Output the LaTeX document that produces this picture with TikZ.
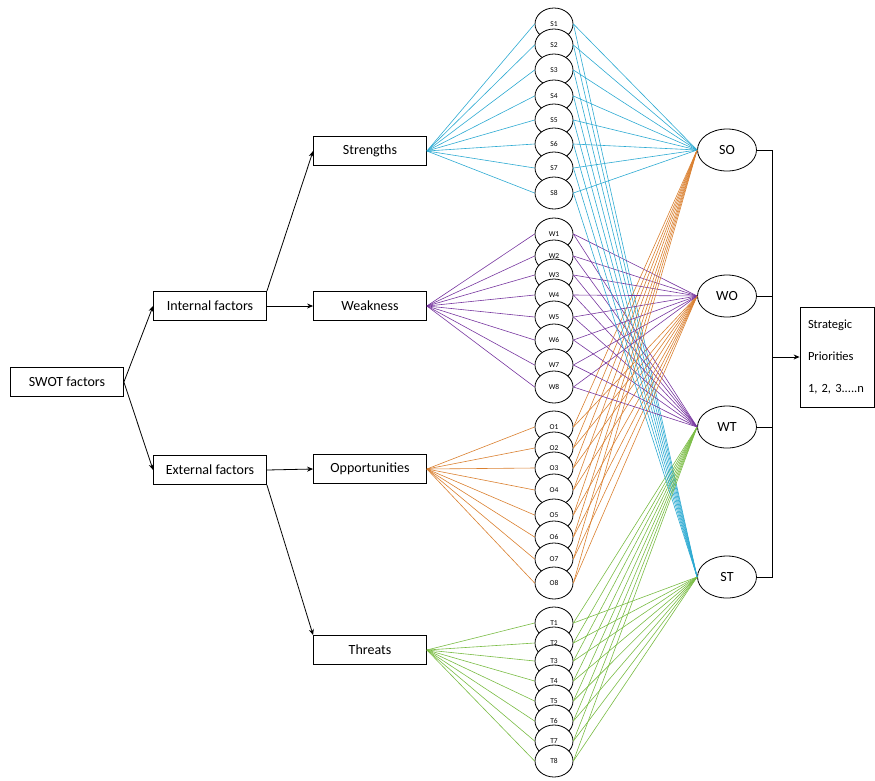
\documentclass[tikz,border=0pt]{standalone}
\usepackage{fontspec}
\setmainfont{Carlito}
\usetikzlibrary{positioning, shapes.geometric, arrows.meta, calc}

\definecolor{scol}{RGB}{45,170,210}
\definecolor{wcol}{RGB}{120,55,160}
\definecolor{ocol}{RGB}{218,128,48}
\definecolor{tcol}{RGB}{122,188,68}

\begin{document}
\begin{tikzpicture}[x=1pt, y=-1pt, >={Stealth[length=6pt, width=5pt]}, line width=0.8pt,
    box/.style={rectangle, draw, minimum width=113pt, minimum height=29pt, inner sep=0pt, font=\fontsize{14}{16}\selectfont},
    item/.style={ellipse, draw, fill=white, minimum width=38pt, minimum height=32pt, inner sep=0pt, font=\fontsize{7.5}{8}\selectfont},
    combo/.style={ellipse, draw, fill=white, minimum width=59pt, minimum height=42pt, inner sep=0pt, font=\fontsize{14}{16}\selectfont},
    link/.style={line width=0.6pt}]
    \useasboundingbox (0,0) rectangle (875,780);

    % Boxes
    \node[box] (swot) at (67, 382) {SWOT factors};
    \node[box] (internal) at (210, 306) {Internal factors};
    \node[box] (external) at (210, 470) {External factors};
    \node[box] (strengths) at (370, 151) {Strengths};
    \node[box] (weakness) at (370, 306) {Weakness};
    \node[box] (opport) at (370, 469) {Opportunities};
    \node[box] (threats) at (370, 650) {Threats};

    % Strategies
    \node[combo] (so) at (727, 150) {SO};
    \node[combo] (wo) at (727, 296) {WO};
    \node[combo] (wt) at (727, 427) {WT};
    \node[combo] (st) at (727, 577) {ST};
    \node[rectangle, draw, minimum height=100pt, text width=58pt, inner xsep=8pt, align=left,
      font=\fontsize{12.5}{32}\selectfont] (prio) at (837, 357) {Strategic\\Priorities\\1, 2, 3.....n};

    % Factor items
    \foreach \i/\y in {1/24, 2/45, 3/70, 4/96, 5/120, 6/144, 7/168, 8/193}
      \node[item] (s\i) at (554, \y) {S\i};
    \foreach \i/\y in {1/234, 2/256, 3/275, 4/295, 5/317, 6/340, 7/365, 8/387}
      \node[item] (w\i) at (554, \y) {W\i};
    \foreach \i/\y in {1/427, 2/448, 3/468, 4/490, 5/515, 6/537, 7/559, 8/583}
      \node[item] (o\i) at (554, \y) {O\i};
    \foreach \i/\y in {1/623, 2/643, 3/661, 4/681, 5/701, 6/721, 7/741, 8/761}
      \node[item] (t\i) at (554, \y) {T\i};

    % Edges
    \draw[->] (swot.east) -- (internal.west);
    \draw[->] (swot.east) -- (external.west);
    \draw[->] (internal.north east) -- (strengths.west);
    \draw[->] (internal.east) -- (weakness.west);
    \draw[->] (external.east) -- (opport.west);
    \draw[->] (external.south east) -- (threats.north west);

    % Fans
    \foreach \i in {1,...,8} {
      \draw[link, scol] (strengths.east) -- (s\i.west);
      \draw[link, scol] (s\i.east) -- (so.west);
      \draw[link, scol] (s\i.east) -- (st.west);
      \draw[link, wcol] (weakness.east) -- (w\i.west);
      \draw[link, wcol] (w\i.east) -- (wo.west);
      \draw[link, wcol] (w\i.east) -- (wt.west);
      \draw[link, ocol] (opport.east) -- (o\i.west);
      \draw[link, ocol] (o\i.east) -- (so.west);
      \draw[link, ocol] (o\i.east) -- (wo.west);
      \draw[link, tcol] (threats.east) -- (t\i.west);
      \draw[link, tcol] (t\i.east) -- (wt.west);
      \draw[link, tcol] (t\i.east) -- (st.west);
    }

    % Bracket
    \coordinate (join) at (772, 357);
    \draw (so.east) -- (so.east -| join) -- (st.east -| join) -- (st.east);
    \draw (wo.east) -- (wo.east -| join);
    \draw (wt.east) -- (wt.east -| join);
    \draw[->] (join) -- (prio.west);
\end{tikzpicture}
\end{document}
